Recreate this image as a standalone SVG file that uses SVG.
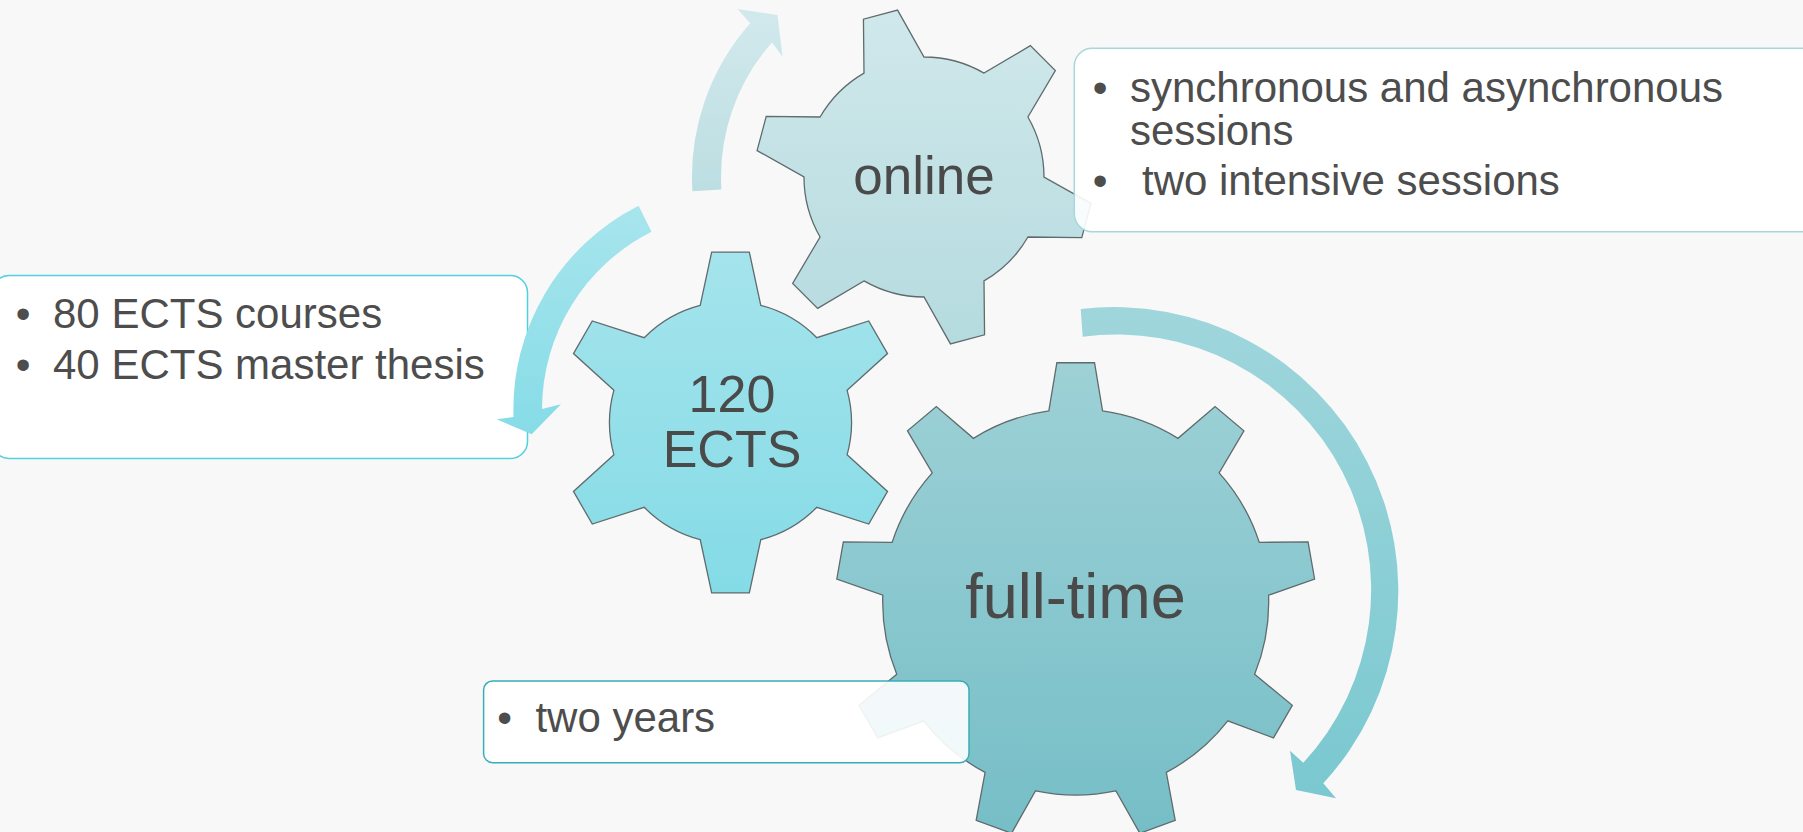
<svg xmlns="http://www.w3.org/2000/svg" width="1803" height="832" viewBox="0 0 1803 832">
<defs>
<linearGradient id="gOnline" x1="0" y1="0" x2="0" y2="1"><stop offset="0" stop-color="#d0e8eb"/><stop offset="1" stop-color="#b5dbdf"/></linearGradient>
<linearGradient id="gEcts" x1="0" y1="0" x2="0" y2="1"><stop offset="0" stop-color="#a5e4ec"/><stop offset="1" stop-color="#84dbe6"/></linearGradient>
<linearGradient id="gFull" x1="0" y1="0" x2="0" y2="1"><stop offset="0" stop-color="#9dd1d6"/><stop offset="1" stop-color="#76bec7"/></linearGradient>
<linearGradient id="aTop" x1="0" y1="0" x2="0" y2="1"><stop offset="0" stop-color="#d2e9ec"/><stop offset="1" stop-color="#bcdee2"/></linearGradient>
<linearGradient id="aLeft" x1="0" y1="0" x2="0" y2="1"><stop offset="0" stop-color="#a8e5ed"/><stop offset="1" stop-color="#86dce7"/></linearGradient>
<linearGradient id="aRight" x1="0" y1="0" x2="0" y2="1"><stop offset="0" stop-color="#9fd6dc"/><stop offset="1" stop-color="#7ac8d0"/></linearGradient>
<style>
.gear{stroke:#5f6b6d;stroke-width:1.3;stroke-linejoin:miter}
.glabel{font-family:"Liberation Sans",Arial,sans-serif;fill:#4a4a4a;text-anchor:middle}
.box{fill:#ffffff;fill-opacity:0.9;stroke-width:1.5}
.btxt{font-family:"Liberation Sans",Arial,sans-serif;font-size:42px;fill:#4d4d4d}
.bul{font-family:"Liberation Sans",Arial,sans-serif;font-size:42px;fill:#4d4d4d;text-anchor:middle}
</style>
</defs>
<rect x="0" y="0" width="1803" height="832" fill="#f8f8f8"/>

<g id="gear-online">
<path class="gear" fill="url(#gOnline)" d="M 864,73.1 L 863.44,19.22 L 897.56,10.08 L 924,57 A 120 120 0 0 1 984,73.1 L 1030.36,45.66 L 1055.34,70.64 L 1027.92,117 A 120 120 0 0 1 1044,177 L 1090.92,203.44 L 1081.78,237.56 L 1027.92,237 A 120 120 0 0 1 984,280.92 L 984.56,334.78 L 950.44,343.92 L 924,297 A 120 120 0 0 1 864,280.92 L 817.64,308.34 L 792.66,283.36 L 820.08,237 A 120 120 0 0 1 804,177 L 757.08,150.56 L 766.22,116.44 L 820.08,117 A 120 120 0 0 1 864,73.1 Z"/>
<text class="glabel" x="924" y="194" font-size="53">online</text>
</g>

<g id="gear-ects">
<path class="gear" fill="url(#gEcts)" d="M 700.2,305.35 L 711.68,252.04 L 749.32,252.04 L 760.8,305.35 A 121 121 0 0 1 816.8,337.69 L 868.72,320.97 L 887.54,353.57 L 847.1,390.16 A 121 121 0 0 1 847.1,454.84 L 887.54,491.43 L 868.72,524.03 L 816.8,507.31 A 121 121 0 0 1 760.8,539.65 L 749.32,592.96 L 711.68,592.96 L 700.2,539.65 A 121 121 0 0 1 644.2,507.31 L 592.28,524.03 L 573.46,491.43 L 613.9,454.84 A 121 121 0 0 1 613.9,390.16 L 573.46,353.57 L 592.28,320.97 L 644.2,337.69 A 121 121 0 0 1 700.2,305.35 Z"/>
<text class="glabel" x="732" y="411.5" font-size="52">120</text>
<text class="glabel" x="732" y="466.5" font-size="52">ECTS</text>
</g>

<g id="gear-fulltime">
<path class="gear" fill="url(#gFull)" d="M 1048.84,410.88 L 1056.87,362.74 L 1094.53,362.74 L 1102.56,410.88 A 193 193 0 0 1 1177.97,438.33 L 1215.07,406.61 L 1243.92,430.82 L 1219.13,472.86 A 193 193 0 0 1 1259.25,542.36 L 1308.06,541.91 L 1314.6,579 L 1268.58,595.26 A 193 193 0 0 1 1254.65,674.3 L 1292.32,705.32 L 1273.49,737.94 L 1227.79,720.82 A 193 193 0 0 1 1166.31,772.41 L 1175.23,820.39 L 1139.84,833.27 L 1115.83,790.78 A 193 193 0 0 1 1035.57,790.78 L 1011.56,833.27 L 976.17,820.39 L 985.09,772.41 A 193 193 0 0 1 923.61,720.82 L 877.91,737.94 L 859.08,705.32 L 896.75,674.3 A 193 193 0 0 1 882.82,595.26 L 836.8,579 L 843.34,541.91 L 892.15,542.36 A 193 193 0 0 1 932.27,472.86 L 907.48,430.82 L 936.33,406.61 L 973.43,438.33 A 193 193 0 0 1 1048.84,410.88 Z"/>
<text class="glabel" x="1075.5" y="618.3" font-size="63">full-time</text>
</g>

<g id="box-ects">
<rect class="box" x="-8" y="275.5" width="535.5" height="183" rx="17" stroke="#52d0de"/>
<text class="bul" x="23" y="328.3">•</text><text class="btxt" x="53" y="328.3">80 ECTS courses</text>
<text class="bul" x="23" y="379.3">•</text><text class="btxt" x="53" y="379.3">40 ECTS master thesis</text>
</g>

<g id="box-online">
<rect class="box" x="1074.3" y="48.3" width="750" height="183.4" rx="18" stroke="#a6d7dd"/>
<text class="bul" x="1100" y="101.7">•</text><text class="btxt" x="1130" y="101.7">synchronous and asynchronous</text>
<text class="btxt" x="1130" y="145">sessions</text>
<text class="bul" x="1100" y="195">•</text><text class="btxt" x="1142" y="195">two intensive sessions</text>
</g>

<g id="box-fulltime">
<rect class="box" x="483.6" y="681" width="485.4" height="81.7" rx="9" stroke="#38adb6"/>
<text class="bul" x="504.6" y="731.7">•</text><text class="btxt" x="535.4" y="731.7">two years</text>
</g>

<g id="connectors">
<path fill="url(#aTop)" d="M 692.4,191.2 A 232 232 0 0 1 750.2,23.3 L 737.5,9 L 777.5,15 L 782.5,56.5 L 772,42.5 A 203 203 0 0 0 721.4,189.4 Z"/>
<path fill="url(#aLeft)" d="M 638.6,205.8 A 228 228 0 0 0 513.5,417 L 496.7,419.3 L 531.7,434.3 L 561,404.3 L 542,409 A 199 199 0 0 1 651.5,231.8 Z"/>
<path fill="url(#aRight)" d="M 1080.7,309 A 284 284 0 0 1 1323.3,783.3 L 1336,798.3 L 1296,790 L 1290,750.7 L 1303.3,762.7 A 255 255 0 0 0 1082.7,336.7 Z"/>
</g>
</svg>
